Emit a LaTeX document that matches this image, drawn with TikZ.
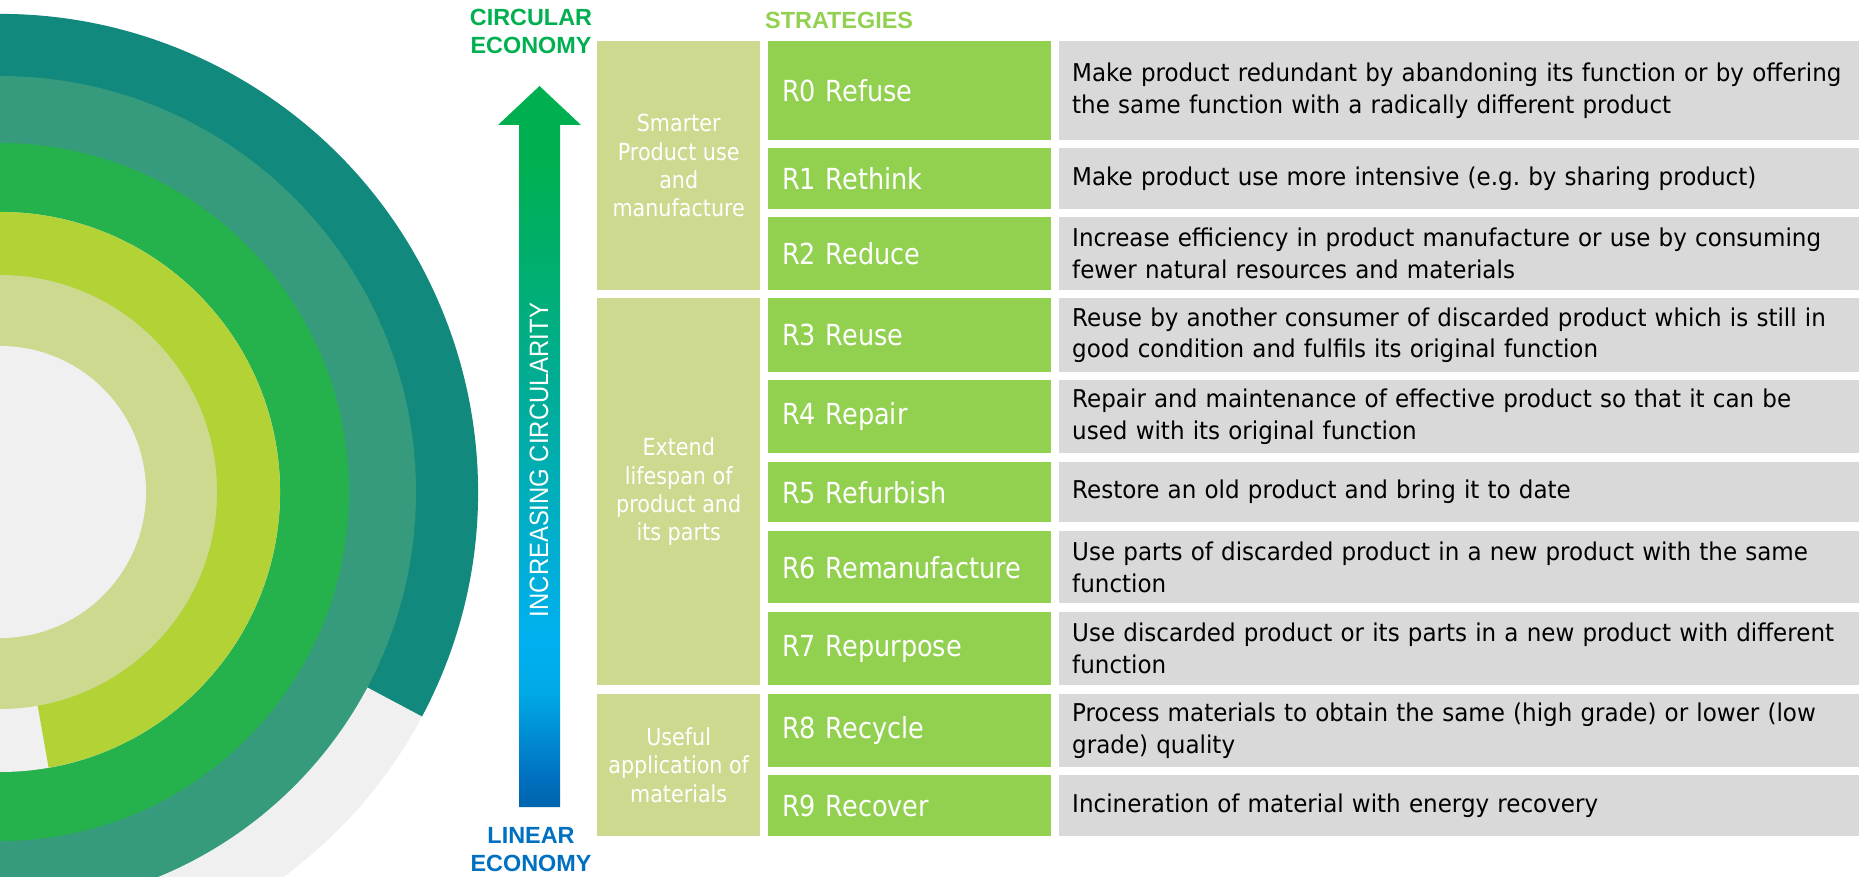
\documentclass[tikz,border=0pt]{standalone}
\usepackage{fontspec}
\usepackage{tikz}
\setmainfont{DejaVu Sans}[FakeStretch=0.88]
\newfontfamily\descfont{DejaVu Sans}[FakeStretch=0.94]
\newfontfamily\arialfont{Liberation Sans}
\newfontfamily\arialnarrow{Liberation Sans}[FakeStretch=0.9]
\frenchspacing
\usetikzlibrary{positioning}
\definecolor{ringteal}{RGB}{18,137,125}
\definecolor{ringsea}{RGB}{54,155,124}
\definecolor{ringgreen}{RGB}{37,177,76}
\definecolor{ringlime}{RGB}{178,210,54}
\definecolor{ringolive}{RGB}{205,217,142}
\definecolor{ringgrey}{RGB}{240,240,240}
\definecolor{catolive}{RGB}{205,217,142}
\definecolor{stratgreen}{RGB}{146,208,80}
\definecolor{descgrey}{RGB}{217,217,217}
\definecolor{circgreen}{RGB}{0,176,80}
\definecolor{linblue}{RGB}{0,112,192}
\pgfdeclareverticalshading{circshade}{100bp}{color(0bp)=(linblue!90!black); color(25bp)=(linblue!90!black);
  color(27bp)=(linblue); color(33bp)=(rgb,255:red,0;green,170;blue,230); color(36.6bp)=(rgb,255:red,0;green,176;blue,240);
  color(43.5bp)=(rgb,255:red,0;green,174;blue,205); color(51.8bp)=(rgb,255:red,0;green,173;blue,160);
  color(61.5bp)=(rgb,255:red,0;green,174;blue,115); color(70bp)=(circgreen); color(100bp)=(circgreen)}
\tikzset{catbox/.style = {fill=catolive, text=white, inner sep=0pt, minimum width=163pt, align=center,
    anchor=north west, font=\fontsize{23.5}{28.3}\selectfont}}
\tikzset{stratbox/.style = {fill=stratgreen, text=white, inner xsep=14pt, inner ysep=0pt, text width=255pt,
    align=left, anchor=north west, font=\fontsize{29}{34}\selectfont}}
\tikzset{descbox/.style = {fill=descgrey, text=black, inner xsep=13pt, inner ysep=0pt, text width=774pt,
    align=left, anchor=north west, font=\descfont\fontsize{24.5}{31.7}\selectfont}}
\tikzset{headtext/.style = {inner sep=0pt, align=center, font=\arialfont\bfseries\fontsize{23.4}{28}\selectfont}}

\begin{document}
\begin{tikzpicture}[x=1pt, y=-1pt]
      \useasboundingbox (0,0) rectangle (1859,877);

      % rings
      \begin{scope}
        \clip (0,0) rectangle (1859,877);
        \fill [ringgrey] (0,492) circle [radius=478];
        \fill [ringteal] (0,492) -- ++(28:478) arc [start angle=28, end angle=-200, radius=478] -- cycle;
        \fill [ringsea] (0,492) circle [radius=416];
        \fill [ringgreen] (0,492) circle [radius=349];
        \fill [ringgrey] (0,492) circle [radius=280];
        \fill [ringlime] (0,492) -- ++(80:280) arc [start angle=80, end angle=-200, radius=280] -- cycle;
        \fill [ringolive] (0,492) circle [radius=217];
        \fill [ringgrey] (0,492) circle [radius=146];
      \end{scope}

      % arrow
      \shade [shading=circshade] (519,807) -- (519,125) -- (498,125) -- (539.5,86) -- (581,125)
        -- (560,125) -- (560,807) -- cycle;
      \node [inner sep=0pt, text=white, rotate=90, font=\arialnarrow\fontsize{26.5}{30}\selectfont]
        (increasing) at (539,460) {INCREASING CIRCULARITY};

      \node [headtext, text=circgreen, anchor=north] (circular) at (531,9) {CIRCULAR\\ECONOMY};
      \node [headtext, text=linblue, anchor=north] (linear) at (531,827) {LINEAR\\ECONOMY};
      \node [headtext, text=stratgreen, anchor=north west] (strategies) at (765,12) {STRATEGIES};

      % groups
      \node [catbox, minimum height=249pt] (smarter) at (597,41) {Smarter\\Product use\\and\\manufacture};
      \node [catbox, minimum height=387pt] (extend) at (597,298) {Extend\\lifespan of\\product and\\its parts};
      \node [catbox, minimum height=142pt] (useful) at (597,694) {Useful\\application of\\materials};

      % strategies
      \node [stratbox, minimum height=99pt] (refuse) at (768,41) {R0 Refuse};
      \node [stratbox, minimum height=61pt] (rethink) at (768,148) {R1 Rethink};
      \node [stratbox, minimum height=73pt] (reduce) at (768,217) {R2 Reduce};
      \node [stratbox, minimum height=74pt] (reuse) at (768,298) {R3 Reuse};
      \node [stratbox, minimum height=73pt] (repair) at (768,380) {R4 Repair};
      \node [stratbox, minimum height=60pt] (refurbish) at (768,462) {R5 Refurbish};
      \node [stratbox, minimum height=72pt] (remanufacture) at (768,531) {R6 Remanufacture};
      \node [stratbox, minimum height=73pt] (repurpose) at (768,612) {R7 Repurpose};
      \node [stratbox, minimum height=73pt] (recycle) at (768,694) {R8 Recycle};
      \node [stratbox, minimum height=61pt] (recover) at (768,775) {R9 Recover};

      % descriptions
      \node [descbox, minimum height=99pt] (refusetxt) at (1059,41)
        {Make product redundant by abandoning its function or by offering\\the same function with a radically different product};
      \node [descbox, minimum height=61pt] (rethinktxt) at (1059,148)
        {Make product use more intensive (e.g. by sharing product)};
      \node [descbox, minimum height=73pt] (reducetxt) at (1059,217)
        {Increase efficiency in product manufacture or use by consuming\\fewer natural resources and materials};
      \node [descbox, minimum height=74pt] (reusetxt) at (1059,298)
        {Reuse by another consumer of discarded product which is still in\\good condition and fulfils its original function};
      \node [descbox, minimum height=73pt] (repairtxt) at (1059,380)
        {Repair and maintenance of effective product so that it can be\\used with its original function};
      \node [descbox, minimum height=60pt] (refurbishtxt) at (1059,462)
        {Restore an old product and bring it to date};
      \node [descbox, minimum height=72pt] (remanufacturetxt) at (1059,531)
        {Use parts of discarded product in a new product with the same\\function};
      \node [descbox, minimum height=73pt] (repurposetxt) at (1059,612)
        {Use discarded product or its parts in a new product with different\\function};
      \node [descbox, minimum height=73pt] (recycletxt) at (1059,694)
        {Process materials to obtain the same (high grade) or lower (low\\grade) quality};
      \node [descbox, minimum height=61pt] (recovertxt) at (1059,775)
        {Incineration of material with energy recovery};
    \end{tikzpicture}
\end{document}
